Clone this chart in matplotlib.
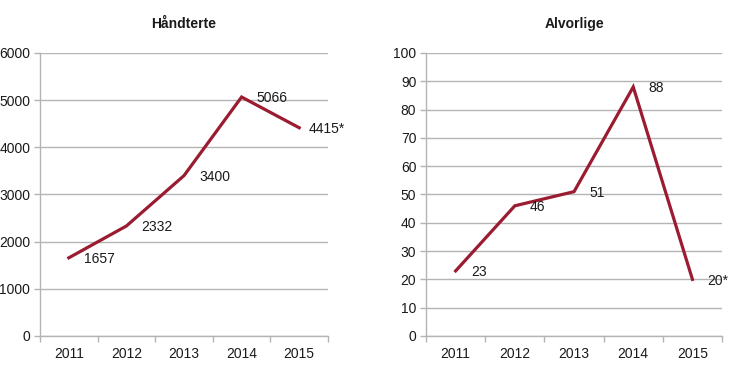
import matplotlib
matplotlib.use("Agg")
import matplotlib.pyplot as plt

years = ["2011", "2012", "2013", "2014", "2015"]
handterte = [1657, 2332, 3400, 5066, 4415]
handterte_labels = ["1657", "2332", "3400", "5066", "4415*"]
alvorlige = [23, 46, 51, 88, 20]
alvorlige_labels = ["23", "46", "51", "88", "20*"]

LINE = "#9b1c31"
GRID = "#b4b4b4"
TEXT = "#1a1a1a"

plt.rcParams["font.family"] = ["Liberation Sans", "DejaVu Sans"]

fig = plt.figure(figsize=(7.3, 3.76), dpi=100)
ax1 = fig.add_axes([0.0548, 0.1064, 0.3945, 0.7527])
ax2 = fig.add_axes([0.5836, 0.1064, 0.4055, 0.7527])


def draw(ax, values, labels, title, ymax, ystep, offsets):
    x = list(range(len(years)))
    ax.plot(x, values, color=LINE, lw=2.3, solid_joinstyle="miter", zorder=3)
    for xi, v, lab, off in zip(x, values, labels, offsets):
        ax.annotate(lab, (xi, v), xytext=(off, -1), textcoords="offset points",
                    ha="left", va="center", fontsize=10, color=TEXT)
    ax.set_xlim(-0.5, len(years) - 0.5)
    ax.set_ylim(0, ymax)
    ax.set_yticks(range(0, ymax + 1, ystep))
    ax.set_xticks(x)
    ax.set_xticklabels(years)
    ax.set_xticks([i - 0.5 for i in range(len(years) + 1)], minor=True)
    ax.tick_params(axis="x", which="major", length=0, pad=8,
                   labelsize=10, labelcolor=TEXT)
    ax.tick_params(axis="x", which="minor", length=4, color=GRID, width=1)
    ax.tick_params(axis="y", length=4, color=GRID, width=1, pad=3,
                   labelsize=10, labelcolor=TEXT)
    ax.grid(axis="y", color=GRID, lw=1)
    ax.set_axisbelow(True)
    for s in ("top", "right"):
        ax.spines[s].set_visible(False)
    for s in ("left", "bottom"):
        ax.spines[s].set_color(GRID)
        ax.spines[s].set_linewidth(1)
    ax.set_title(title, fontsize=10, fontweight="bold", color=TEXT, pad=18)


draw(ax1, handterte, handterte_labels, "Håndterte", 6000, 1000,
     [11, 11, 11, 11, 7])
draw(ax2, alvorlige, alvorlige_labels, "Alvorlige", 100, 10,
     [11, 11, 11, 11, 11])

fig.savefig("out.png", dpi=100)
